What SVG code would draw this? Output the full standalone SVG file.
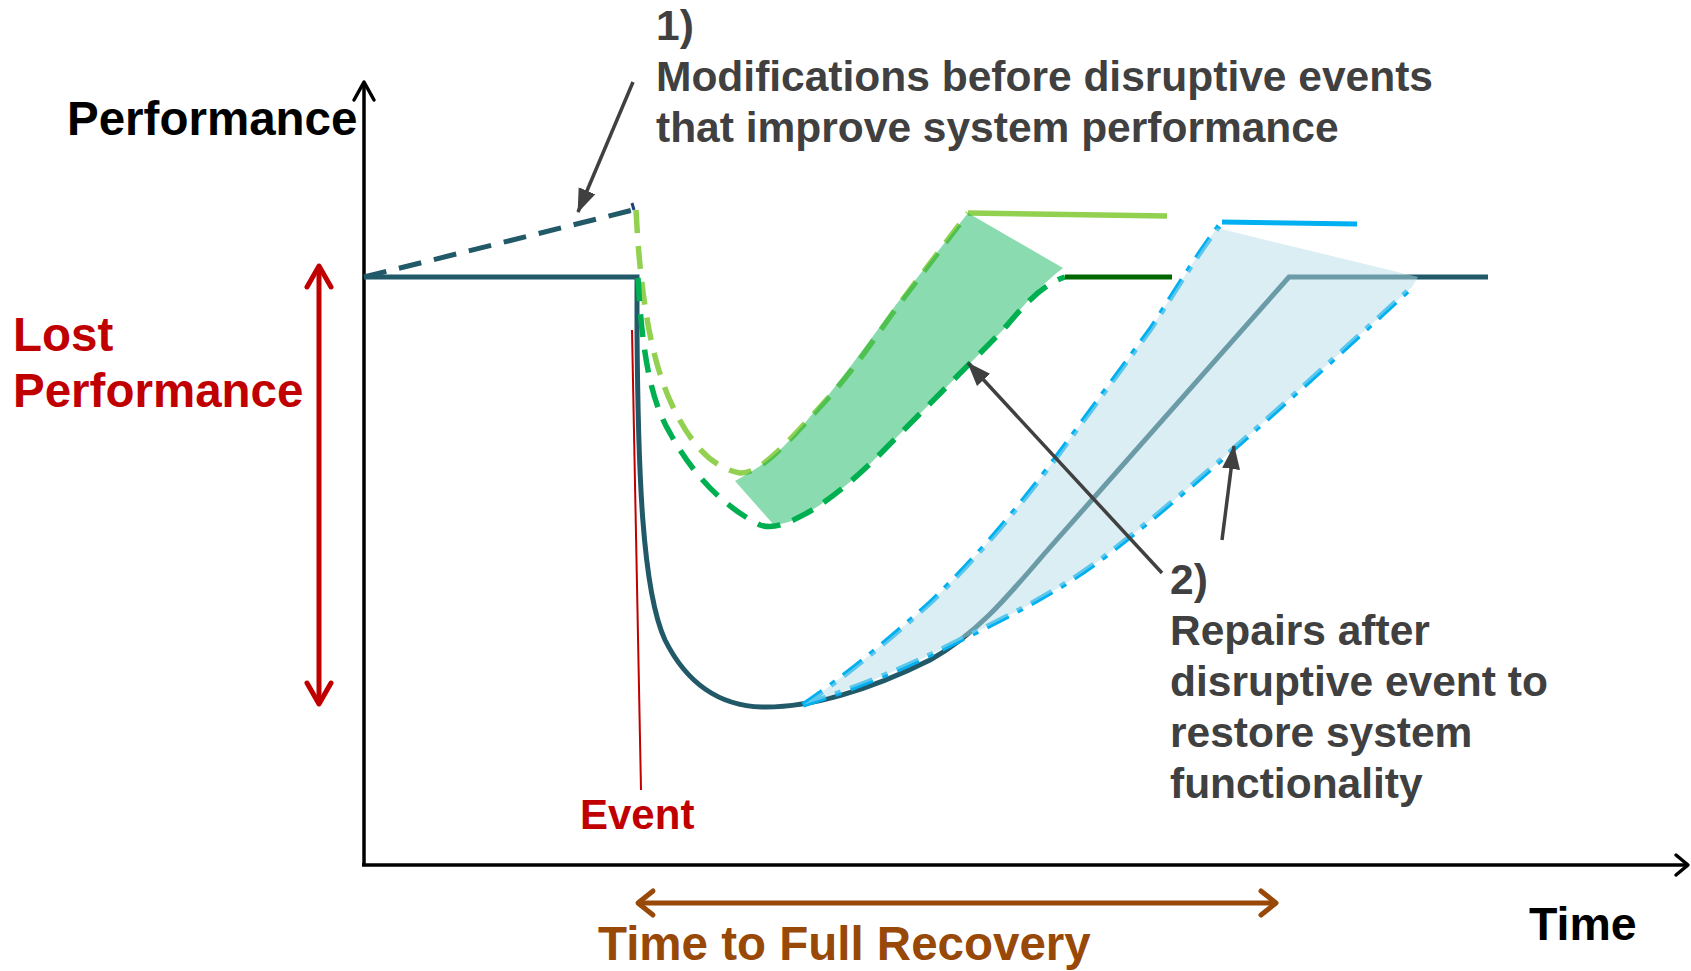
<svg xmlns="http://www.w3.org/2000/svg" width="1691" height="971" viewBox="0 0 1691 971">
  <style>
    text { font-family: "Liberation Sans", Arial, sans-serif; font-weight: bold; }
    .note { fill: #404040; font-size: 42.5px; }
    .red { fill: #C00000; }
    .axis { stroke: #000; stroke-width: 3.5; fill: none; }
    .chev { fill: none; stroke-linecap: round; stroke-linejoin: round; }
    .perf { fill: none; stroke: #215968; stroke-width: 5; stroke-linejoin: miter; }
    .lg { fill: none; stroke: #92D050; stroke-width: 5.5; }
    .dg { fill: none; stroke: #00B050; stroke-width: 5.5; }
    .bl { fill: none; stroke: #00B0F0; stroke-width: 5.5; stroke-dasharray: 24 10 6 10; }
    .dash { stroke-dasharray: 23 13; }
    .lead { stroke: #404040; stroke-width: 3.5; fill: none; }
  </style>
  <defs>
    <marker id="tip" markerUnits="userSpaceOnUse" markerWidth="24" markerHeight="20" viewBox="0 0 24 20" refX="23" refY="10" orient="auto">
      <path d="M0,1 L24,10 L0,19 Z" fill="#404040"/>
    </marker>
  </defs>

  <rect width="1691" height="971" fill="#fff"/>

  <!-- axes -->
  <g id="axes">
    <path class="axis" d="M364,866 V84"/>
    <path class="axis chev" d="M354,100 L364,82 L374,100"/>
    <path class="axis" d="M362,865 H1686"/>
    <path class="axis chev" d="M1676,855 L1688,865 L1676,875"/>
  </g>

  <!-- baseline performance and the event drop -->
  <g id="baseline-curve">
    <path class="perf" d="M364,277 H637 V330 C638,470 642,590 665,640 C690,690 725,706 762,707 C810,708 870,690 930,660 C975,635 1005,600 1045,553 L1289,277 H1488"/>
    <path class="perf dash" d="M364,277 L633,210"/>
    <path d="M632,203 L634,210" stroke="#1F3F7F" stroke-width="3"/>
  </g>

  <!-- pre-event modification curves -->
  <g id="green-curves">
    <path class="lg dash" d="M636,210 C640,290 650,360 673,407 C690,443 712,468 740,473 C760,474 785,445 820,407 C850,375 870,345 897,307 L968,213"/>
    <path class="lg" d="M968,213 L1167,216"/>
    <path class="dg dash" d="M638,278 C642,350 650,400 670,433 C690,470 720,505 760,525 C775,530 790,522 807,513 C830,500 860,475 887,447 L1003,330 C1020,310 1040,285 1065,277"/>
    <path d="M1065,277 H1172" stroke="#006600" stroke-width="5"/>
    <path id="green-band" fill="#00B050" fill-opacity="0.46" d="M735,481 C750,472 765,465 783,447 C798,432 812,414 826,398 C846,373 868,343 895,306 L968,213 L1063,268 C1045,282 1035,292 1003,330 L887,447 C860,475 830,500 807,513 C795,520 785,525 773,524 Z"/>
  </g>

  <!-- post-event repair curves -->
  <g id="blue-curves">
    <path class="bl" d="M803,705 C840,680 880,648 930,603 C980,555 1030,495 1080,425 L1150,330 C1170,300 1190,265 1219,226"/>
    <path class="bl" d="M803,705 C850,690 900,670 940,650 C1000,620 1050,597 1100,560 C1180,500 1300,390 1412,287"/>
    <path d="M1222,222 L1357,224" stroke="#00B0F0" stroke-width="5" fill="none"/>
    <path id="blue-band" fill="#B7DDE8" fill-opacity="0.5" d="M803,705 C840,680 880,648 930,603 C980,555 1030,495 1080,425 L1150,330 C1170,300 1190,265 1217,228 L1418,277 L1412,287 C1300,390 1180,500 1100,560 C1050,597 1000,620 940,650 C900,670 850,690 803,705 Z"/>
  </g>

  <!-- event marker -->
  <g id="event">
    <path d="M632,330 L641,790" stroke="#C00000" stroke-width="2"/>
    <text class="red" x="580" y="829" font-size="42">Event</text>
  </g>

  <!-- lost performance span -->
  <g id="lost-performance">
    <path d="M319,266 V704" stroke="#C00000" stroke-width="5"/>
    <path class="chev" d="M307,287 L319,266 L331,287" stroke="#C00000" stroke-width="5"/>
    <path class="chev" d="M307,683 L319,704 L331,683" stroke="#C00000" stroke-width="5"/>
    <text class="red" x="13" y="351" font-size="47.5">Lost</text>
    <text class="red" x="13" y="407" font-size="47.5">Performance</text>
  </g>

  <!-- recovery time span -->
  <g id="recovery-time">
    <path d="M640,903 H1274" stroke="#984807" stroke-width="5"/>
    <path class="chev" d="M653,891 L638,903 L653,915" stroke="#984807" stroke-width="5"/>
    <path class="chev" d="M1261,891 L1276,903 L1261,915" stroke="#984807" stroke-width="5"/>
    <text x="598" y="960" font-size="47.5" fill="#984807">Time to Full Recovery</text>
  </g>

  <!-- annotation leaders -->
  <g id="connectors">
    <path class="lead" d="M633,82 L578,212" marker-end="url(#tip)"/>
    <path class="lead" d="M1162,573 L968,363" marker-end="url(#tip)"/>
    <path class="lead" d="M1222,540 L1234,446" marker-end="url(#tip)"/>
  </g>

  <!-- axis titles -->
  <g id="axis-labels">
    <text x="67" y="135" font-size="47.5" fill="#000">Performance</text>
    <text x="1529" y="940" font-size="46.5" fill="#000">Time</text>
  </g>

  <g id="note-modifications">
    <text class="note" x="656" y="40">1)</text>
    <text class="note" x="656" y="91">Modifications before disruptive events</text>
    <text class="note" x="656" y="142">that improve system performance</text>
  </g>

  <g id="note-repairs">
    <text class="note" x="1170" y="594">2)</text>
    <text class="note" x="1170" y="645">Repairs after</text>
    <text class="note" x="1170" y="696">disruptive event to</text>
    <text class="note" x="1170" y="747">restore system</text>
    <text class="note" x="1170" y="798">functionality</text>
  </g>
</svg>
